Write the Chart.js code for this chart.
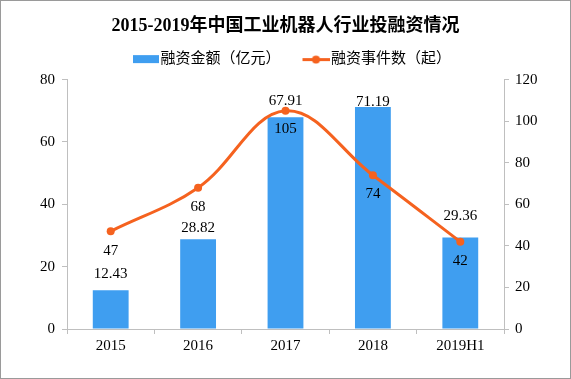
<!DOCTYPE html>
<html><head><meta charset="utf-8">
<script src="https://cdn.jsdelivr.net/npm/chart.js@4/dist/chart.umd.min.js"></script>
<style>
html,body{margin:0;padding:0;background:#fff;}
#wrap{width:571px;height:379px;box-sizing:border-box;border:1px solid #9a9a9a;background:#fff;}
canvas{display:block;}
</style></head><body>
<div id="wrap"><canvas id="c" width="569" height="377"></canvas></div>
<script>
// ---- data ----
const categories = ['2015', '2016', '2017', '2018', '2019H1'];
const fundingAmount = [12.43, 28.82, 67.91, 71.19, 29.36];   // 融资金额（亿元）
const fundingEvents = [47, 68, 105, 74, 42];                  // 融资事件数（起）
const leftTicks = [0, 20, 40, 60, 80];
const rightTicks = [0, 20, 40, 60, 80, 100, 120];
const seriesNames = ['融资金额（亿元）', '融资事件数（起）'];
const titleText = '2015-2019年中国工业机器人行业投融资情况';

// ---- styles ----
const BLUE = '#3f9ef0';
const ORANGE = '#f5621f';
const AXIS = '#bfbfbf';
const NUMFONT = "'Liberation Serif', 'Noto Sans CJK SC', serif";
const CJKFONT = "'Liberation Serif', 'Noto Sans CJK SC', sans-serif";

Chart.defaults.color = '#000';

// legend icons
const W = 33;
function makeIcon(kind) {
  const c = document.createElement('canvas');
  c.width = W + 12; c.height = 10;
  const g = c.getContext('2d');
  const x0 = c.width - 27;
  if (kind === 'bar') {
    g.fillStyle = BLUE;
    g.fillRect(x0 + 1, 1, 26, 8);
  } else {
    g.fillStyle = ORANGE;
    g.fillRect(x0, 4, 27, 3);
    g.beginPath(); g.arc(x0 + 13.5, 5.5, 4, 0, Math.PI * 2); g.fill();
  }
  return c;
}
const barIcon = makeIcon('bar');
const lineIcon = makeIcon('line');

// spacer box between legend and plot area
const spacer = {
  id: 'spacer',
  beforeInit(chart, args, opts) {
    const box = {
      position: 'top', weight: 500, fullSize: true, options: { stackWeight: 1 },
      left: 0, top: 0, right: 0, bottom: 0, width: 0, height: 0,
      update(maxWidth) { this.width = maxWidth; this.height = opts.size; },
      isHorizontal() { return true; },
      draw() {}
    };
    Chart.layouts.addBox(chart, box);
  }
};

const valueLabels = {
  id: 'valueLabels',
  afterDatasetsDraw(chart, args, opts) {
    const ctx = chart.ctx;
    ctx.save();
    ctx.font = '15px ' + NUMFONT;
    ctx.fillStyle = '#000';
    ctx.textAlign = 'center';
    ctx.textBaseline = 'middle';
    const barMeta = chart.getDatasetMeta(0);
    barMeta.data.forEach((el, i) => {
      ctx.fillText(fundingAmount[i].toFixed(2), el.x, el.y - opts.barGap[i]);
    });
    const lineMeta = chart.getDatasetMeta(1);
    lineMeta.data.forEach((el, i) => {
      ctx.fillText(String(fundingEvents[i]), el.x, el.y + opts.lineGap[i]);
    });
    ctx.restore();
  }
};

new Chart(document.getElementById('c'), {
  type: 'bar',
  data: {
    labels: categories,
    datasets: [
      {
        type: 'bar', label: seriesNames[0], data: fundingAmount, yAxisID: 'y',
        backgroundColor: BLUE, barPercentage: 0.82, categoryPercentage: 0.5, order: 2
      },
      {
        type: 'line', label: seriesNames[1], data: fundingEvents, yAxisID: 'y1',
        borderColor: ORANGE, backgroundColor: ORANGE, borderWidth: 3, tension: 0.38,
        pointRadius: 4, pointHoverRadius: 4, pointBorderWidth: 0, order: 1
      }
    ]
  },
  options: {
    responsive: false, animation: false, devicePixelRatio: 1,
    layout: { padding: { top: 0, left: 0, right: 0, bottom: 0 } },
    plugins: {
      tooltip: { enabled: false },
      title: {
        display: true, text: titleText, color: '#000',
        font: { family: CJKFONT, size: 18, weight: 'bold', lineHeight: 1.2 },
        padding: { top: 15, bottom: 4 }
      },
      legend: {
        display: true,
        labels: {
          usePointStyle: true, pointStyleWidth: W, boxHeight: 8, padding: 10,
          color: '#000', font: { family: CJKFONT, size: 15 },
          generateLabels: () => [
            { text: seriesNames[0], pointStyle: barIcon, fillStyle: BLUE, strokeStyle: BLUE, lineWidth: 0, hidden: false, datasetIndex: 0 },
            { text: seriesNames[1], pointStyle: lineIcon, fillStyle: ORANGE, strokeStyle: ORANGE, lineWidth: 0, hidden: false, datasetIndex: 1 }
          ]
        }
      },
      spacer: { size: 3 },
      valueLabels: { barGap: [16, 11, 16, 5, 21], lineGap: [20, 19, 18, 19, 19] }
    },
    scales: {
      x: {
        offset: true,
        grid: { display: true, offset: true, drawOnChartArea: false, drawTicks: true, tickLength: 5, color: AXIS },
        border: { display: true, color: AXIS },
        ticks: { font: { family: NUMFONT, size: 15 }, color: '#000', padding: 3, maxRotation: 0 },
        afterFit: s => { s.height = 49; }
      },
      y: {
        position: 'left', min: 0, max: 80,
        afterBuildTicks: s => { s.ticks = leftTicks.map(v => ({ value: v })); },
        grid: { display: true, drawOnChartArea: false, drawTicks: true, tickLength: 5, color: AXIS },
        border: { display: true, color: AXIS },
        ticks: { font: { family: NUMFONT, size: 15 }, color: '#000', padding: 7 },
        afterFit: s => { s.width = 66; }
      },
      y1: {
        position: 'right', min: 0, max: 120,
        afterBuildTicks: s => { s.ticks = rightTicks.map(v => ({ value: v })); },
        grid: { display: true, drawOnChartArea: false, drawTicks: true, tickLength: 5, color: AXIS },
        border: { display: true, color: AXIS },
        ticks: { font: { family: NUMFONT, size: 15 }, color: '#000', padding: 6 },
        afterFit: s => { s.width = 66; }
      }
    }
  },
  plugins: [spacer, valueLabels]
});
</script>
</body></html>
